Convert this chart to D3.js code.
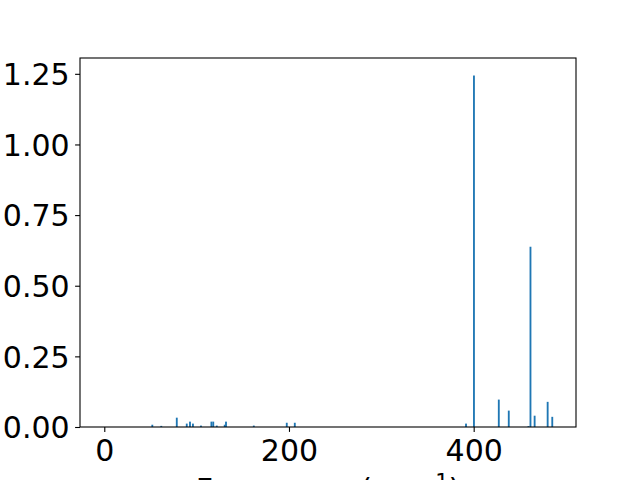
<!DOCTYPE html>
<html>
<head>
<meta charset="utf-8">
<script src="https://cdn.jsdelivr.net/npm/d3@7"></script>
<style>
  body { margin: 0; background: #fff; }
  svg { display: block; }
  .tick text { font-family: "DejaVu Sans", sans-serif; font-size: 30px; fill: #000; }
  .x-label { font-family: "DejaVu Sans", sans-serif; font-size: 30px; fill: #000; }
</style>
</head>
<body>
<svg id="chart" width="640" height="480"></svg>
<script>
// Frequencies (cm^-1) and intensities
var frequencies = [52, 61.7, 78.5, 89.3, 92.8, 96, 104.7, 116, 118, 121.8, 130.4, 131.8,
  161.9, 197.6, 206.3, 391.7, 400.3, 427.2, 438, 459.3, 461.5, 466, 480.1, 485.1];
var intensities = [0.008, 0.004, 0.033, 0.012, 0.019, 0.012, 0.005, 0.019, 0.019, 0.005, 0.008, 0.019,
  0.005, 0.015, 0.015, 0.012, 1.244, 0.097, 0.058, 0.003, 0.638, 0.040, 0.089, 0.036];
var xTicks = [0, 200, 400];
var yTicks = [0, 0.25, 0.5, 0.75, 1.0, 1.25];

var margin = {left: 80, right: 64, top: 58, bottom: 53};
var width = 640 - margin.left - margin.right;
var height = 480 - margin.top - margin.bottom;
var barWidth = 2;

var svg = d3.select("#chart");
var g = svg.append("g")
  .attr("transform", "translate(" + margin.left + "," + margin.top + ")");

var x = d3.scaleLinear().domain([-26.3, 510.8]).range([0, width]);
var y = d3.scaleLinear().domain([0, 1.306]).range([height, 0]);

var data = frequencies.map(function(f, i) { return {f: f, v: intensities[i]}; });

g.selectAll("rect.bar")
  .data(data)
  .enter().append("rect")
  .attr("class", "bar")
  .attr("x", function(d) { return x(d.f - barWidth / 2); })
  .attr("width", function(d) { return x(d.f + barWidth / 2) - x(d.f - barWidth / 2); })
  .attr("y", function(d) { return y(d.v); })
  .attr("height", function(d) { return y(0) - y(d.v); })
  .attr("fill", "#1f77b4");

// Axes
var xAxis = g.append("g")
  .attr("transform", "translate(0," + height + ")")
  .call(d3.axisBottom(x).tickValues(xTicks).tickFormat(d3.format("d"))
    .tickSize(4.9).tickPadding(5.5));

var yAxis = g.append("g")
  .call(d3.axisLeft(y).tickValues(yTicks).tickFormat(d3.format(".2f"))
    .tickSize(4.9).tickPadding(5.5));

[xAxis, yAxis].forEach(function(ax) {
  ax.select(".domain").remove();
  ax.selectAll(".tick line").attr("stroke", "#000").attr("stroke-width", 1.1);
});
xAxis.selectAll(".tick text").attr("dy", "0.78em");
yAxis.selectAll(".tick text").attr("dy", "0.36em");

// Frame
g.append("rect")
  .attr("x", 0).attr("y", 0)
  .attr("width", width).attr("height", height)
  .attr("fill", "none")
  .attr("stroke", "#000")
  .attr("stroke-width", 1.1);

// X label (cut off at the bottom, as in the original)
var label = svg.append("text")
  .attr("class", "x-label")
  .attr("x", margin.left + width / 2)
  .attr("y", 500)
  .attr("text-anchor", "middle");
label.append("tspan").text("Frequency (cm");
label.append("tspan").attr("dy", -11).attr("font-size", "21px").text("\u22121");
label.append("tspan").attr("dy", 11).text(")");
</script>
</body>
</html>
